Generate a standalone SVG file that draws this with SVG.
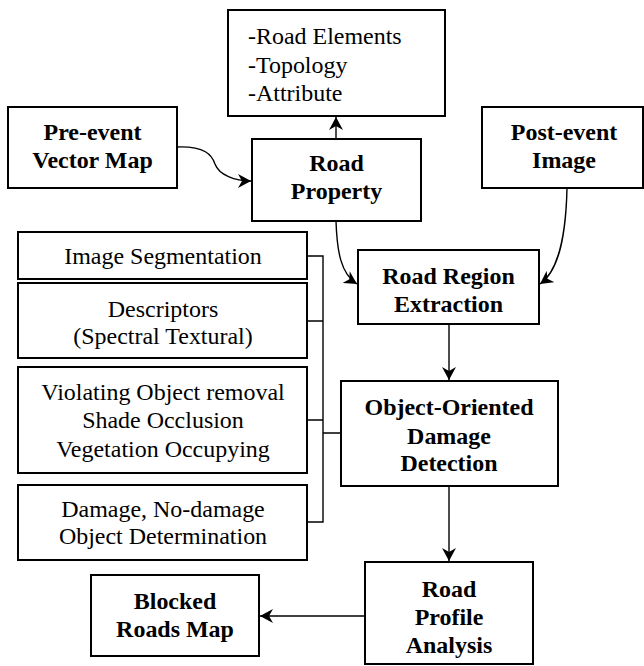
<svg xmlns="http://www.w3.org/2000/svg" width="644" height="666" viewBox="0 0 644 666">
<style>
.box{fill:#fff;stroke:#000;stroke-width:2}
.b{font-family:"Liberation Serif","Times New Roman",serif;font-weight:bold;font-size:22.5px;text-anchor:middle;fill:#000}
.r{font-family:"Liberation Serif","Times New Roman",serif;font-size:22.5px;text-anchor:middle;fill:#000}
.l{font-family:"Liberation Serif","Times New Roman",serif;font-size:22.5px;fill:#000}
.c{fill:none;stroke:#000;stroke-width:1.4}
</style>
<defs>
<marker id="ah" markerUnits="userSpaceOnUse" markerWidth="14" markerHeight="14" refX="13" refY="7" orient="auto">
<path d="M0,0 L13,7 L0,14 L4,7 z" fill="#000"/>
</marker>
</defs>
<rect width="644" height="666" fill="#fff"/>
<g id="connectors">
<path class="c" d="M336,139 L336,117" marker-end="url(#ah)"/>
<path class="c" d="M177,147 C205,146 212,155 215,164 C219,175 235,181 251,181" marker-end="url(#ah)"/>
<path class="c" d="M336,221 C337,252 341,274 357,284" marker-end="url(#ah)"/>
<path class="c" d="M567,188 C566,232 560,270 540,284" marker-end="url(#ah)"/>
<path class="c" d="M449,324 L449,380" marker-end="url(#ah)"/>
<path class="c" d="M449,486 L449,561" marker-end="url(#ah)"/>
<path class="c" d="M365,616 L260,616" marker-end="url(#ah)"/>
<path class="c" d="M307,256 L323,256 L323,522 L307,522 M307,321 L323,321 M307,420 L323,420 M323,433 L341,433"/>
</g>
<g id="n-elements">
<rect class="box" x="228" y="10" width="217" height="106"/>
<text class="l" transform="translate(248,0) scale(1.065,1)"><tspan x="0" y="44">-Road Elements</tspan><tspan x="0" y="73">-Topology</tspan><tspan x="0" y="101">-Attribute</tspan></text>
</g>
<g id="n-preevent">
<rect class="box" x="8" y="107" width="169" height="81"/>
<text class="b" transform="translate(92.5,0) scale(1.065,1)"><tspan x="0" y="140">Pre-event</tspan><tspan x="0" y="168">Vector Map</tspan></text>
</g>
<g id="n-property">
<rect class="box" x="252" y="139" width="169" height="82"/>
<text class="b" transform="translate(336.5,0) scale(1.065,1)"><tspan x="0" y="171">Road</tspan><tspan x="0" y="199">Property</tspan></text>
</g>
<g id="n-postevent">
<rect class="box" x="482" y="107" width="161" height="81"/>
<text class="b" transform="translate(564,0) scale(1.065,1)"><tspan x="0" y="140">Post-event</tspan><tspan x="0" y="168">Image</tspan></text>
</g>
<g id="n-seg">
<rect class="box" x="18" y="232" width="289" height="47"/>
<text class="r" transform="translate(163,0) scale(1.065,1)"><tspan x="0" y="264">Image Segmentation</tspan></text>
</g>
<g id="n-desc">
<rect class="box" x="18" y="283" width="289" height="75"/>
<text class="r" transform="translate(163,0) scale(1.065,1)"><tspan x="0" y="317">Descriptors</tspan><tspan x="0" y="344">(Spectral Textural)</tspan></text>
</g>
<g id="n-violating">
<rect class="box" x="18" y="367" width="289" height="106"/>
<text class="r" transform="translate(163,0) scale(1.065,1)"><tspan x="0" y="400">Violating Object removal</tspan><tspan x="0" y="428">Shade Occlusion</tspan><tspan x="0" y="457">Vegetation Occupying</tspan></text>
</g>
<g id="n-damage">
<rect class="box" x="18" y="485" width="289" height="75"/>
<text class="r" transform="translate(163,0) scale(1.065,1)"><tspan x="0" y="517">Damage,  No-damage</tspan><tspan x="0" y="544">Object Determination</tspan></text>
</g>
<g id="n-rre">
<rect class="box" x="358" y="250" width="181" height="74"/>
<text class="b" transform="translate(448.5,0) scale(1.065,1)"><tspan x="0" y="284">Road Region</tspan><tspan x="0" y="312">Extraction</tspan></text>
</g>
<g id="n-oodd">
<rect class="box" x="341" y="381" width="217" height="105"/>
<text class="b" transform="translate(449,0) scale(1.065,1)"><tspan x="0" y="415">Object-Oriented</tspan><tspan x="0" y="444">Damage</tspan><tspan x="0" y="471">Detection</tspan></text>
</g>
<g id="n-profile">
<rect class="box" x="365" y="562" width="168" height="102"/>
<text class="b" transform="translate(449,0) scale(1.065,1)"><tspan x="0" y="597">Road</tspan><tspan x="0" y="625">Profile</tspan><tspan x="0" y="653">Analysis</tspan></text>
</g>
<g id="n-blocked">
<rect class="box" x="91" y="575" width="168" height="81"/>
<text class="b" transform="translate(175,0) scale(1.065,1)"><tspan x="0" y="609">Blocked</tspan><tspan x="0" y="637">Roads Map</tspan></text>
</g>
</svg>
